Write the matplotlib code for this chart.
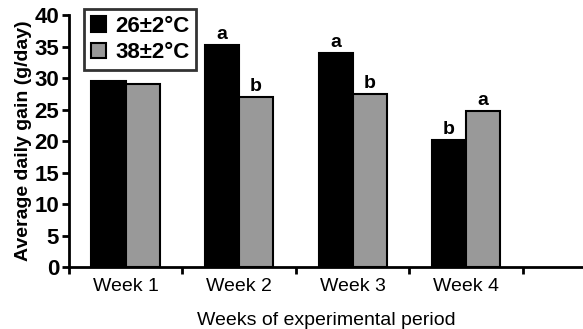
import numpy as np
import matplotlib
matplotlib.use('Agg')
import matplotlib.pyplot as plt

plt.rcParams['font.family'] = ['Liberation Sans', 'DejaVu Sans']

weeks = ['Week 1', 'Week 2', 'Week 3', 'Week 4']
gain_26 = [29.5, 35.2, 34.0, 20.2]
gain_38 = [29.0, 27.0, 27.5, 24.8]
letters_26 = ['', 'a', 'a', 'b']
letters_38 = ['', 'b', 'b', 'a']
series_names = ['26\u00b12\u00b0C', '38\u00b12\u00b0C']

fig = plt.figure(figsize=(5.83, 3.29), dpi=100)
ax = fig.add_axes([0.118, 0.188, 0.882, 0.766])

x = np.arange(len(weeks))
w = 0.3
b1 = ax.bar(x - w / 2, gain_26, w, color='black', edgecolor='black', linewidth=1.5, label=series_names[0])
b2 = ax.bar(x + w / 2, gain_38, w, color='#999999', edgecolor='black', linewidth=1.5, label=series_names[1])

# significance letters
for rect, lab in zip(b1, letters_26):
    ax.text(rect.get_x() + rect.get_width() / 2, rect.get_height() + 0.3, lab,
            ha='center', va='bottom', fontsize=14, fontweight='bold')
for rect, lab in zip(b2, letters_38):
    ax.text(rect.get_x() + rect.get_width() / 2, rect.get_height() + 0.3, lab,
            ha='center', va='bottom', fontsize=14, fontweight='bold')

ax.set_xlim(-0.5, 4.03)
ax.set_ylim(0, 40)
ax.set_yticks(range(0, 41, 5))
ax.set_xticks(x)
ax.set_xticklabels(weeks, fontsize=14)
ax.set_xticks(np.arange(-0.5, 4, 1), minor=True)
ax.tick_params(axis='x', which='major', length=0, pad=8)
ax.tick_params(axis='x', which='minor', length=5, width=2, direction='out')
ax.tick_params(axis='y', length=5, width=2, labelsize=16, pad=2)
for t in ax.get_yticklabels():
    t.set_fontweight('bold')

for s in ['top', 'right']:
    ax.spines[s].set_visible(False)
for s in ['left', 'bottom']:
    ax.spines[s].set_linewidth(2)

ax.set_ylabel('Average daily gain (g/day)', fontsize=14, fontweight='bold', labelpad=2)
ax.set_xlabel('Weeks of experimental period', fontsize=14, labelpad=12)

leg = ax.legend(loc='upper left', bbox_to_anchor=(0.03, 1.025), fontsize=16,
                frameon=True, fancybox=False, edgecolor='black',
                handlelength=0.7, handleheight=0.7, handletextpad=0.4,
                borderpad=0.3, labelspacing=0.25, borderaxespad=0)
leg.get_frame().set_linewidth(2)
for t in leg.get_texts():
    t.set_fontweight('bold')

fig.savefig('out.png', dpi=100)
